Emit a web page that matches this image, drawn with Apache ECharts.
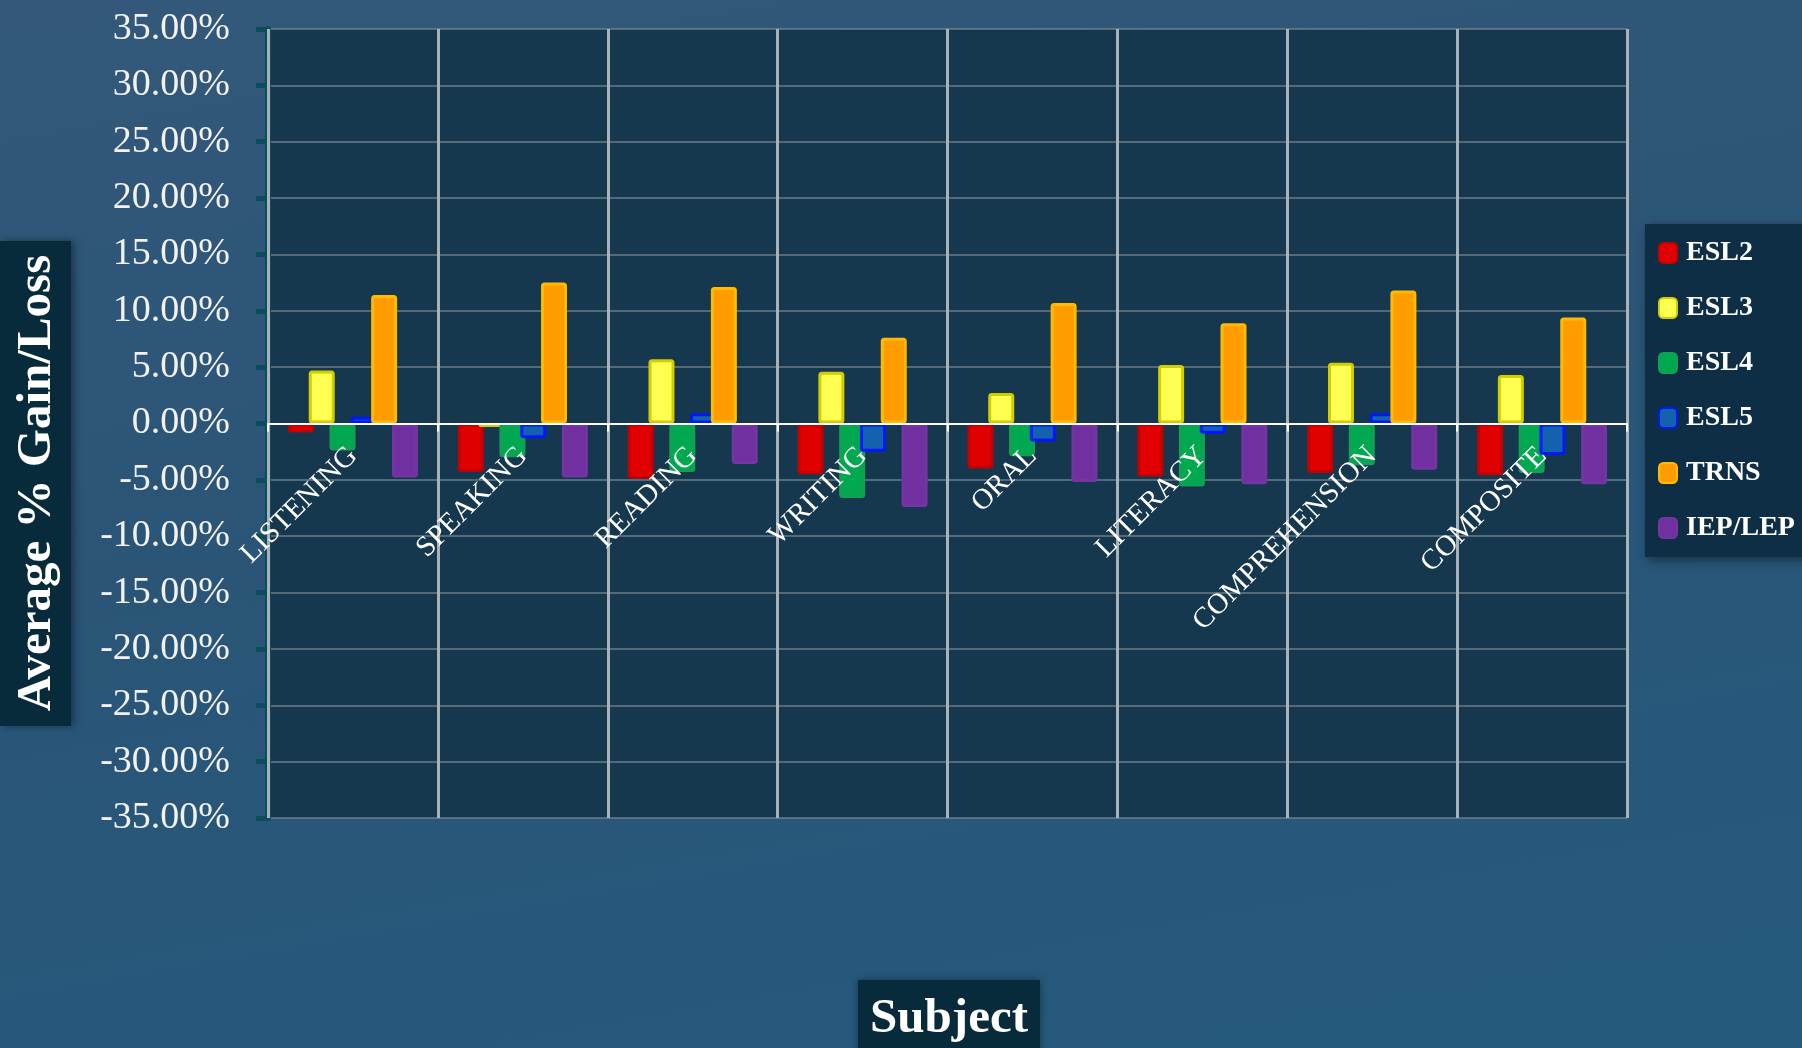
<!DOCTYPE html>
<html>
<head>
<meta charset="utf-8">
<title>Average % Gain/Loss by Subject</title>
<script src="https://cdn.jsdelivr.net/npm/echarts@6/dist/echarts.min.js"></script>
<style>
  html, body { margin: 0; padding: 0; }
  body {
    width: 1802px; height: 1048px; overflow: hidden;
    background: linear-gradient(170deg, #33587a 0%, #2a5577 45%, #255a7d 100%);
  }
  #chart { width: 1802px; height: 1048px; }
</style>
</head>
<body>
<div id="chart"></div>
<script>
// subjects on the category axis
var categories = ['LISTENING', 'SPEAKING', 'READING', 'WRITING', 'ORAL', 'LITERACY', 'COMPREHENSION', 'COMPOSITE'];

// average % gain / loss per group
var esl2 = [-0.8, -4.3, -4.9, -4.5, -4.0, -4.7, -4.4, -4.6];
var esl3 = [4.7, -0.3, 5.7, 4.6, 2.7, 5.2, 5.4, 4.3];
var esl4 = [-2.4, -3.0, -4.3, -6.6, -2.9, -5.6, -3.7, -4.4];
var esl5 = [0.6, -1.3, 0.9, -2.5, -1.6, -0.9, 0.9, -2.8];
var trns = [11.4, 12.5, 12.1, 7.6, 10.7, 8.9, 11.8, 9.4];
var iepLep = [-4.8, -4.8, -3.6, -7.4, -5.2, -5.4, -4.1, -5.4];

var serif = '"Liberation Serif", "DejaVu Serif", serif';

// plot box, px
var gridTop = 29, gridBottom = 230;
var plotH = 1048 - gridTop - gridBottom;

function bar(name, data, fill, border) {
    return {
        name: name,
        type: 'bar',
        data: data,
        barWidth: 26,
        barGap: '-20%',
        itemStyle: {
            color: fill,
            borderColor: border,
            borderWidth: 3,
            borderRadius: 2
        }
    };
}

var chart = echarts.init(document.getElementById('chart'));
var option = {
    backgroundColor: 'transparent',
    animation: false,
    grid: {
        left: 268,
        right: 175,
        top: gridTop,
        bottom: gridBottom,
        show: true,
        backgroundColor: '#16384f',
        borderWidth: 0
    },
    legend: {
        orient: 'vertical',
        left: 1645,
        top: 224,
        padding: [15, 20, 15, 13],
        itemWidth: 18,
        itemHeight: 20,
        itemGap: 27,
        backgroundColor: '#0d2e44',
        shadowColor: 'rgba(0,0,0,0.45)',
        shadowBlur: 10,
        shadowOffsetX: 3,
        shadowOffsetY: 3,
        textStyle: {
            color: '#ffffff',
            fontFamily: serif,
            fontWeight: 'bold',
            fontSize: 28,
            padding: [0, 0, 0, 4]
        },
        data: ['ESL2', 'ESL3', 'ESL4', 'ESL5', 'TRNS', 'IEP/LEP']
    },
    xAxis: {
        type: 'category',
        data: categories,
        z: 10,
        // whole axis (line, ticks, labels) sits on the 0% line
        offset: -plotH / 2,
        axisLine: {
            onZero: false,
            lineStyle: { color: '#ffffff', width: 2 }
        },
        axisTick: {
            show: true,
            length: 8,
            lineStyle: { color: '#ffffff', width: 2 }
        },
        splitLine: {
            show: true,
            lineStyle: { color: '#aab2b9', width: 3 }
        },
        axisLabel: {
            rotate: 45,
            margin: 28,
            interval: 0,
            color: '#ffffff',
            fontFamily: serif,
            fontSize: 29
        }
    },
    yAxis: {
        type: 'value',
        min: -35,
        max: 35,
        interval: 5,
        axisLine: {
            show: true,
            lineStyle: { color: '#0b4d5c', width: 6 }
        },
        axisTick: {
            show: true,
            length: 12,
            lineStyle: { color: '#0b4d5c', width: 5 }
        },
        splitLine: {
            lineStyle: { color: 'rgba(125,140,148,0.6)', width: 2 }
        },
        axisLabel: {
            margin: 38,
            color: '#f2f2f2',
            fontFamily: serif,
            fontSize: 38,
            formatter: function (v) { return v.toFixed(2) + '%'; }
        }
    },
    graphic: [
        // y axis title box
        {
            type: 'rect',
            left: 0,
            top: 241,
            shape: { width: 71, height: 485 },
            style: { fill: '#082b3c', shadowColor: 'rgba(0,0,0,0.4)', shadowBlur: 8, shadowOffsetX: 3 }
        },
        {
            type: 'text',
            x: 37,
            y: 483,
            rotation: Math.PI / 2,
            style: {
                text: 'Average % Gain/Loss',
                fill: '#ffffff',
                font: 'bold 49px ' + serif,
                textAlign: 'center',
                textVerticalAlign: 'middle'
            }
        },
        // x axis title box
        {
            type: 'rect',
            left: 858,
            top: 980,
            shape: { width: 182, height: 80 },
            style: { fill: '#082b3c', shadowColor: 'rgba(0,0,0,0.4)', shadowBlur: 8 }
        },
        {
            type: 'text',
            x: 949,
            y: 1019,
            style: {
                text: 'Subject',
                fill: '#ffffff',
                font: 'bold 49px ' + serif,
                textAlign: 'center',
                textVerticalAlign: 'middle'
            }
        }
    ],
    series: [
        bar('ESL2', esl2, '#e00000', '#c40000'),
        bar('ESL3', esl3, '#ffff52', '#d2cc00'),
        bar('ESL4', esl4, '#00a84f', '#12a052'),
        bar('ESL5', esl5, '#1462ae', '#0018ff'),
        bar('TRNS', trns, '#ff9c00', '#ffbb00'),
        bar('IEP/LEP', iepLep, '#7030a0', '#7434a4')
    ]
};
chart.setOption(option);
</script>
</body>
</html>
